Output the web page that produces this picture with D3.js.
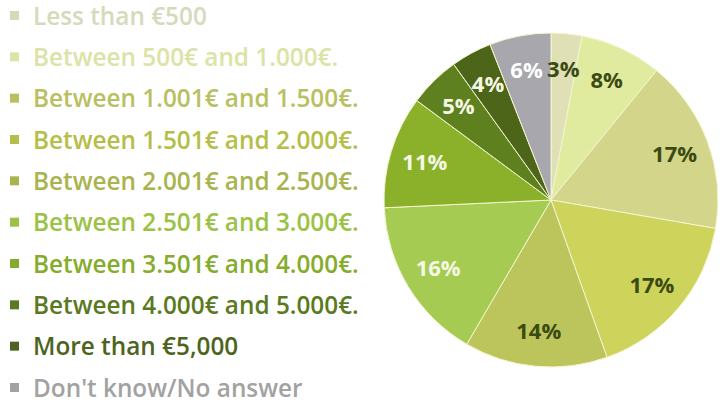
<!DOCTYPE html>
<html lang="en">
<head>
<meta charset="UTF-8">
<title>Income distribution</title>
<script src="https://d3js.org/d3.v7.min.js"></script>
<style>
    body { margin: 0; background: #fff; overflow: hidden; }
    text { font-family: "Open Sans", Lato, sans-serif; }
</style>
</head>
<body>
<script>
    // categories, values and colours
    var categories = [
        "Less than €500",
        "Between 500€ and 1.000€.",
        "Between 1.001€ and 1.500€.",
        "Between 1.501€ and 2.000€.",
        "Between 2.001€ and 2.500€.",
        "Between 2.501€ and 3.000€.",
        "Between 3.501€ and 4.000€.",
        "Between 4.000€ and 5.000€.",
        "More than €5,000",
        "Don't know/No answer"
    ];
    var values = [3, 8, 17, 17, 14, 16, 11, 5, 4, 6];
    var sliceColors = ["#dfe0b6", "#e1eb9f", "#d3d68a", "#cdd35b", "#bcc55b",
                       "#a5cb52", "#8bb12b", "#5f801f", "#4d6519", "#a7a7ad"];
    var legendColors = ["#d6dabb", "#dbe3a6", "#b9c061", "#b5be48", "#a9b44f",
                        "#9bc245", "#86ac2c", "#5a7a22", "#4d6420", "#a2a2a2"];
    var labelColors = ["#3b4a12", "#3b4a12", "#3b4a12", "#3b4a12", "#3b4a12",
                       "#f4f8e4", "#f4f8e4", "#f4f8e4", "#f4f8e4", "#ffffff"];

    var width = 723, height = 403;
    var svg = d3.select("body").append("svg")
        .attr("width", width)
        .attr("height", height);

    // legend
    var rowY = d3.scalePoint().domain(d3.range(categories.length)).range([16, 388]);
    var legend = svg.append("g");
    var item = legend.selectAll("g")
        .data(categories)
        .enter().append("g")
        .attr("transform", (d, i) => "translate(0," + rowY(i) + ")");
    item.append("rect")
        .attr("x", 10).attr("y", -5)
        .attr("width", 9).attr("height", 9)
        .attr("fill", (d, i) => legendColors[i]);
    var legendText = item.append("text")
        .attr("x", 33)
        .attr("dy", "0.36em")
        .attr("font-size", 20)
        .attr("font-weight", 600)
        .attr("fill", (d, i) => legendColors[i])
        .text(d => d);

    // size the font so the longest line ends near x = 360 like the original
    var widest = d3.max(legendText.nodes(), n => n.getComputedTextLength());
    legendText.attr("font-size", 20 * 326 / widest);

    // pie
    var cx = 551, cy = 200, R = 167;
    var pie = d3.pie().sort(null).value(d => d);
    var arcs = pie(values);
    var arc = d3.arc().innerRadius(0).outerRadius(R);
    var labelArc = d3.arc().innerRadius(R * 0.79).outerRadius(R * 0.79);

    var g = svg.append("g").attr("transform", "translate(" + cx + "," + cy + ")");
    g.selectAll("path")
        .data(arcs)
        .enter().append("path")
        .attr("d", arc)
        .attr("fill", (d, i) => sliceColors[i])
        .attr("stroke", "#f3f5cf")
        .attr("stroke-width", 1);

    g.selectAll("text")
        .data(arcs)
        .enter().append("text")
        .attr("transform", d => "translate(" + labelArc.centroid(d) + ")")
        .attr("text-anchor", "middle")
        .attr("dy", "0.36em")
        .attr("font-size", 22)
        .attr("font-weight", "bold")
        .attr("fill", (d, i) => labelColors[i])
        .text(d => d.data + "%");
</script>
</body>
</html>
